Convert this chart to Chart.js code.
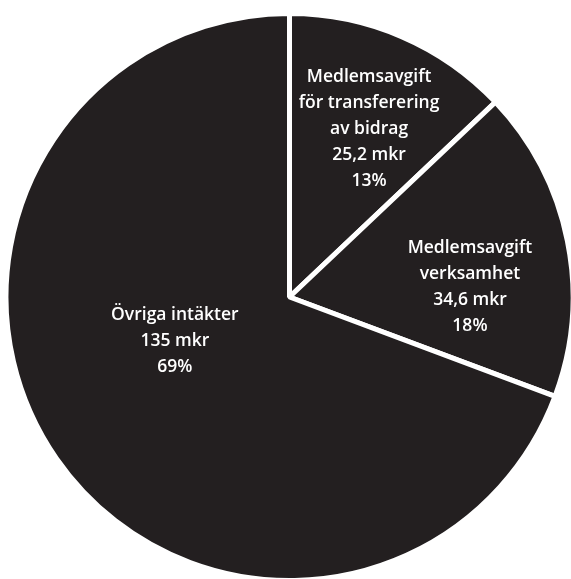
<!DOCTYPE html>
<html>
<head>
<meta charset="utf-8">
<script src="https://cdn.jsdelivr.net/npm/chart.js@4"></script>
<style>
  html, body { margin: 0; padding: 0; background: #fff; }
  canvas { display: block; }
</style>
</head>
<body>
<canvas id="pie" width="571" height="579"></canvas>
<script>
const categories = [
  ['Medlemsavgift', 'för transferering', 'av bidrag'],
  ['Medlemsavgift', 'verksamhet'],
  ['Övriga intäkter'],
];
const values = [25.2, 34.6, 135];
const percents = ['13%', '18%', '69%'];

// where each label sits: fraction across the slice angle, fraction of radius
const labelAngle = [0.543, 0.632, 0.555];
const labelRadius = [0.663, 0.643, 0.437];

const fmt = (v) => String(v).replace('.', ',') + ' mkr';

const sliceLabels = {
  id: 'sliceLabels',
  afterDatasetsDraw(chart) {
    const ctx = chart.ctx;
    const arcs = chart.getDatasetMeta(0).data;
    ctx.save();
    ctx.fillStyle = '#ffffff';
    ctx.font = '600 17.5px "Open Sans"';
    ctx.textAlign = 'center';
    ctx.textBaseline = 'middle';
    arcs.forEach((arc, i) => {
      const p = arc.getProps(['x', 'y', 'startAngle', 'endAngle', 'outerRadius'], true);
      const a = p.startAngle + labelAngle[i] * (p.endAngle - p.startAngle);
      const r = labelRadius[i] * (p.outerRadius - 2.5);
      const cx = p.x + Math.cos(a) * r;
      const cy = p.y + Math.sin(a) * r;
      const lines = categories[i].concat([fmt(values[i]), percents[i]]);
      const lh = 26;
      const top = cy - (lines.length - 1) * lh / 2;
      lines.forEach((t, j) => ctx.fillText(t, cx, top + j * lh));
    });
    ctx.restore();
  },
};

new Chart(document.getElementById('pie'), {
  type: 'pie',
  data: {
    labels: categories.map((c) => c.join(' ')),
    datasets: [
      {
        data: values,
        backgroundColor: '#231f20',
        borderColor: '#ffffff',
        borderWidth: 5,
        radius: 283.5,
      },
    ],
  },
  options: {
    responsive: false,
    animation: false,
    layout: { padding: { left: 8, top: 15, right: 0, bottom: 0 } },
    plugins: {
      legend: { display: false },
      tooltip: { enabled: false },
    },
  },
  plugins: [sliceLabels],
});
</script>
</body>
</html>
